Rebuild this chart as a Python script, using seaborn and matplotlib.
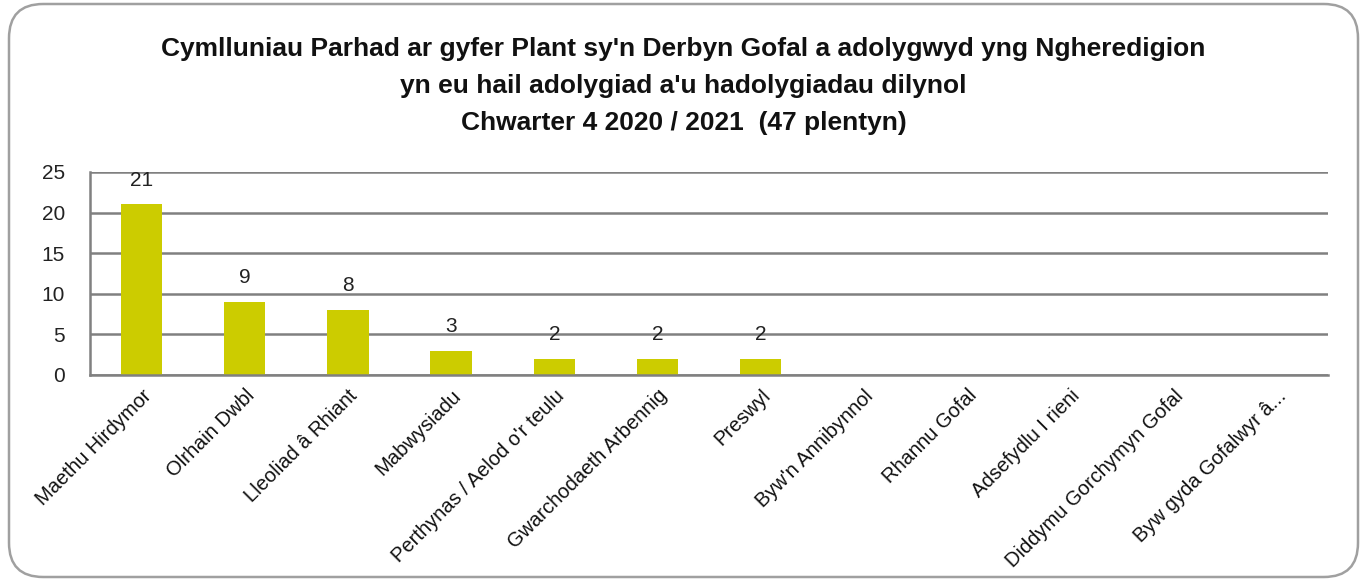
import matplotlib
matplotlib.use("Agg")
import matplotlib.pyplot as plt
import seaborn as sns
import pandas as pd
from matplotlib.patches import FancyBboxPatch

categories = ["Maethu Hirdymor", "Olrhain Dwbl", "Lleoliad â Rhiant", "Mabwysiadu",
              "Perthynas / Aelod o'r teulu", "Gwarchodaeth Arbennig", "Preswyl",
              "Byw'n Annibynnol", "Rhannu Gofal", "Adsefydlu I rieni",
              "Diddymu Gorchymyn Gofal", "Byw gyda Gofalwyr â..."]
values = [21, 9, 8, 3, 2, 2, 2, 0, 0, 0, 0, 0]
yticks = [0, 5, 10, 15, 20, 25]
title = ("Cymlluniau Parhad ar gyfer Plant sy'n Derbyn Gofal a adolygwyd yng Ngheredigion\n"
         "yn eu hail adolygiad a'u hadolygiadau dilynol\n"
         "Chwarter 4 2020 / 2021  (47 plentyn)")

sns.set_theme(style="white")
plt.rcParams["font.family"] = ["Liberation Sans", "DejaVu Sans"]

df = pd.DataFrame({"cat": categories, "val": values})

fig = plt.figure(figsize=(13.67, 5.86), dpi=100)
ax = fig.add_axes([90/1367, 1-375/586, (1328-90)/1367, (375-172)/586])

sns.barplot(data=df, x="cat", y="val", color="#CCCC00", width=0.4, ax=ax,
            saturation=1, edgecolor="none")

ax.set_ylim(0, 25)
ax.set_yticks(yticks)
ax.set_yticklabels([str(t) for t in yticks], fontsize=15, color="#222222")
ax.yaxis.grid(True, color="#808080", linewidth=1.8)
ax.set_axisbelow(True)
ax.set_xlabel("")
ax.set_ylabel("")
for s in ["top", "right"]:
    ax.spines[s].set_visible(False)
for s in ["left", "bottom"]:
    ax.spines[s].set_color("#808080")
    ax.spines[s].set_linewidth(1.8)
ax.tick_params(axis="y", length=0, pad=18)
ax.tick_params(axis="x", length=0, pad=8)
ax.set_xticks(range(len(categories)))
ax.set_xticklabels(categories, rotation=45, ha="right", rotation_mode="anchor",
                   fontsize=14.5, color="#111111")

for i, v in enumerate(values):
    if v > 0:
        ax.text(i, v + 3.0, str(v), ha="center", va="center", fontsize=15, color="#222222")

fig.text(0.5, 1-86/586, title, ha="center", va="center", fontsize=19,
         fontweight="bold", linespacing=1.7, color="#111111")

border = FancyBboxPatch((9/1367, 9/586), (1358-9)/1367, (582-9)/586,
                        boxstyle="round,pad=0,rounding_size=0.025",
                        transform=fig.transFigure, fill=False,
                        edgecolor="#A0A0A0", linewidth=1.8,
                        mutation_aspect=1367/586)
fig.patches.append(border)

fig.savefig("out.png", dpi=100)
